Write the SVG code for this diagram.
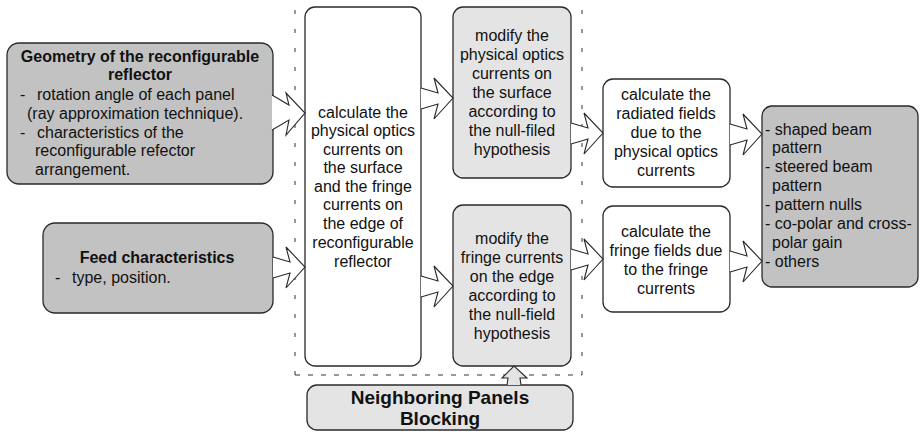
<svg xmlns="http://www.w3.org/2000/svg" width="920" height="434" viewBox="0 0 920 434">
<style>
  .box { stroke: #2a2a2a; stroke-width: 1.3; }
  .dark { fill: #c2c2c2; }
  .light { fill: #e4e4e4; }
  .white { fill: #ffffff; }
  text { font-family: "Liberation Sans", Arial, sans-serif; font-size: 16px; fill: #111; }
  .c { text-anchor: middle; }
  .b { font-weight: bold; }
  .big { font-size: 19px; font-weight: bold; }
  .arrow { fill: #ffffff; stroke: #2a2a2a; stroke-width: 1.1; stroke-linejoin: miter; }
  .dash { stroke: #333; stroke-width: 1; fill: none; }
</style>
<defs>
  <path id="arr" d="M0,-10 L17,-5 L13,-20 L32,0 L13,21 L17,6 L0,11"/>
</defs>
<rect width="920" height="434" fill="#ffffff"/>

<g id="boundary">
  <line class="dash" x1="295" y1="10" x2="295" y2="375" stroke-dasharray="4 15"/>
  <line class="dash" x1="582" y1="10" x2="582" y2="375" stroke-dasharray="4 15"/>
  <line class="dash" x1="295" y1="375" x2="582" y2="375" stroke-dasharray="5 8"/>
</g>

<g id="geometry">
  <rect class="box dark" x="7" y="43" width="266" height="141" rx="12"/>
  <text class="c b" x="140" y="62">Geometry of the reconfigurable</text>
  <text class="c b" x="140" y="80">reflector</text>
  <text x="20" y="100">-</text><text x="37" y="100">rotation angle of each panel</text>
  <text x="27" y="119">(ray approximation technique).</text>
  <text x="20" y="138">-</text><text x="37" y="138">characteristics of the</text>
  <text x="35" y="156">reconfigurable refector</text>
  <text x="35" y="175">arrangement.</text>
</g>

<g id="feed">
  <rect class="box dark" x="43" y="223" width="230" height="90" rx="12"/>
  <text class="c b" x="157" y="263">Feed characteristics</text>
  <text x="55" y="283">-</text><text x="72" y="283">type, position.</text>
</g>

<g id="calc-currents">
  <rect class="box white" x="305" y="7" width="116" height="359" rx="10"/>
  <text class="c" x="363" y="118">calculate the</text>
  <text class="c" x="363" y="136">physical optics</text>
  <text class="c" x="363" y="155">currents on</text>
  <text class="c" x="363" y="173">the surface</text>
  <text class="c" x="363" y="192">and the fringe</text>
  <text class="c" x="363" y="210">currents on</text>
  <text class="c" x="363" y="229">the edge of</text>
  <text class="c" x="363" y="248">reconfigurable</text>
  <text class="c" x="363" y="267">reflector</text>
</g>

<g id="modify-po">
  <rect class="box light" x="453" y="7" width="118" height="171" rx="10"/>
  <text class="c" x="512" y="41">modify the</text>
  <text class="c" x="512" y="60">physical optics</text>
  <text class="c" x="512" y="79">currents on</text>
  <text class="c" x="512" y="98">the surface</text>
  <text class="c" x="512" y="117">according to</text>
  <text class="c" x="512" y="136">the null-filed</text>
  <text class="c" x="512" y="155">hypothesis</text>
</g>

<g id="modify-fringe">
  <rect class="box light" x="453" y="205" width="118" height="161" rx="10"/>
  <text class="c" x="512" y="244">modify the</text>
  <text class="c" x="512" y="263">fringe currents</text>
  <text class="c" x="512" y="282">on the edge</text>
  <text class="c" x="512" y="301">according to</text>
  <text class="c" x="512" y="320">the null-field</text>
  <text class="c" x="512" y="339">hypothesis</text>
</g>

<g id="blocking">
  <rect class="box light" x="307" y="385" width="266" height="45" rx="10"/>
  <text class="c big" x="440" y="404">Neighboring Panels</text>
  <text class="c big" x="440" y="425">Blocking</text>
</g>

<g id="radiated">
  <rect class="box white" x="603" y="79" width="127" height="108" rx="10"/>
  <text class="c" x="666" y="100">calculate the</text>
  <text class="c" x="666" y="119">radiated fields</text>
  <text class="c" x="666" y="138">due to the</text>
  <text class="c" x="666" y="157">physical optics</text>
  <text class="c" x="666" y="176">currents</text>
</g>

<g id="fringe-fields">
  <rect class="box white" x="603" y="206" width="127" height="106" rx="10"/>
  <text class="c" x="666" y="237">calculate the</text>
  <text class="c" x="666" y="256">fringe fields due</text>
  <text class="c" x="666" y="275">to the fringe</text>
  <text class="c" x="666" y="294">currents</text>
</g>

<g id="output">
  <rect class="box dark" x="762" y="106" width="156" height="181" rx="10"/>
  <text x="765" y="135">- shaped beam</text>
  <text x="772" y="153">pattern</text>
  <text x="765" y="172">- steered beam</text>
  <text x="772" y="191">pattern</text>
  <text x="765" y="210">- pattern nulls</text>
  <text x="765" y="229">- co-polar and cross-</text>
  <text x="772" y="248">polar gain</text>
  <text x="765" y="267">- others</text>
</g>

<g id="connectors">
  <path class="arrow" d="M272,95 L289,105 L286,93 L305,113 L286,135 L289,120 L272,130"/>
  <use href="#arr" class="arrow" transform="translate(273,267)"/>
  <use href="#arr" class="arrow" transform="translate(421,98)"/>
  <use href="#arr" class="arrow" transform="translate(421,286)"/>
  <use href="#arr" class="arrow" transform="translate(571,133)"/>
  <use href="#arr" class="arrow" transform="translate(571,259)"/>
  <use href="#arr" class="arrow" transform="translate(730,134)"/>
  <use href="#arr" class="arrow" transform="translate(730,261)"/>
  <path class="arrow" style="fill:#e4e4e4" d="M507,385 L508,378 L502,378 L514,366 L527,378 L520,378 L521,385"/>
</g>
</svg>
